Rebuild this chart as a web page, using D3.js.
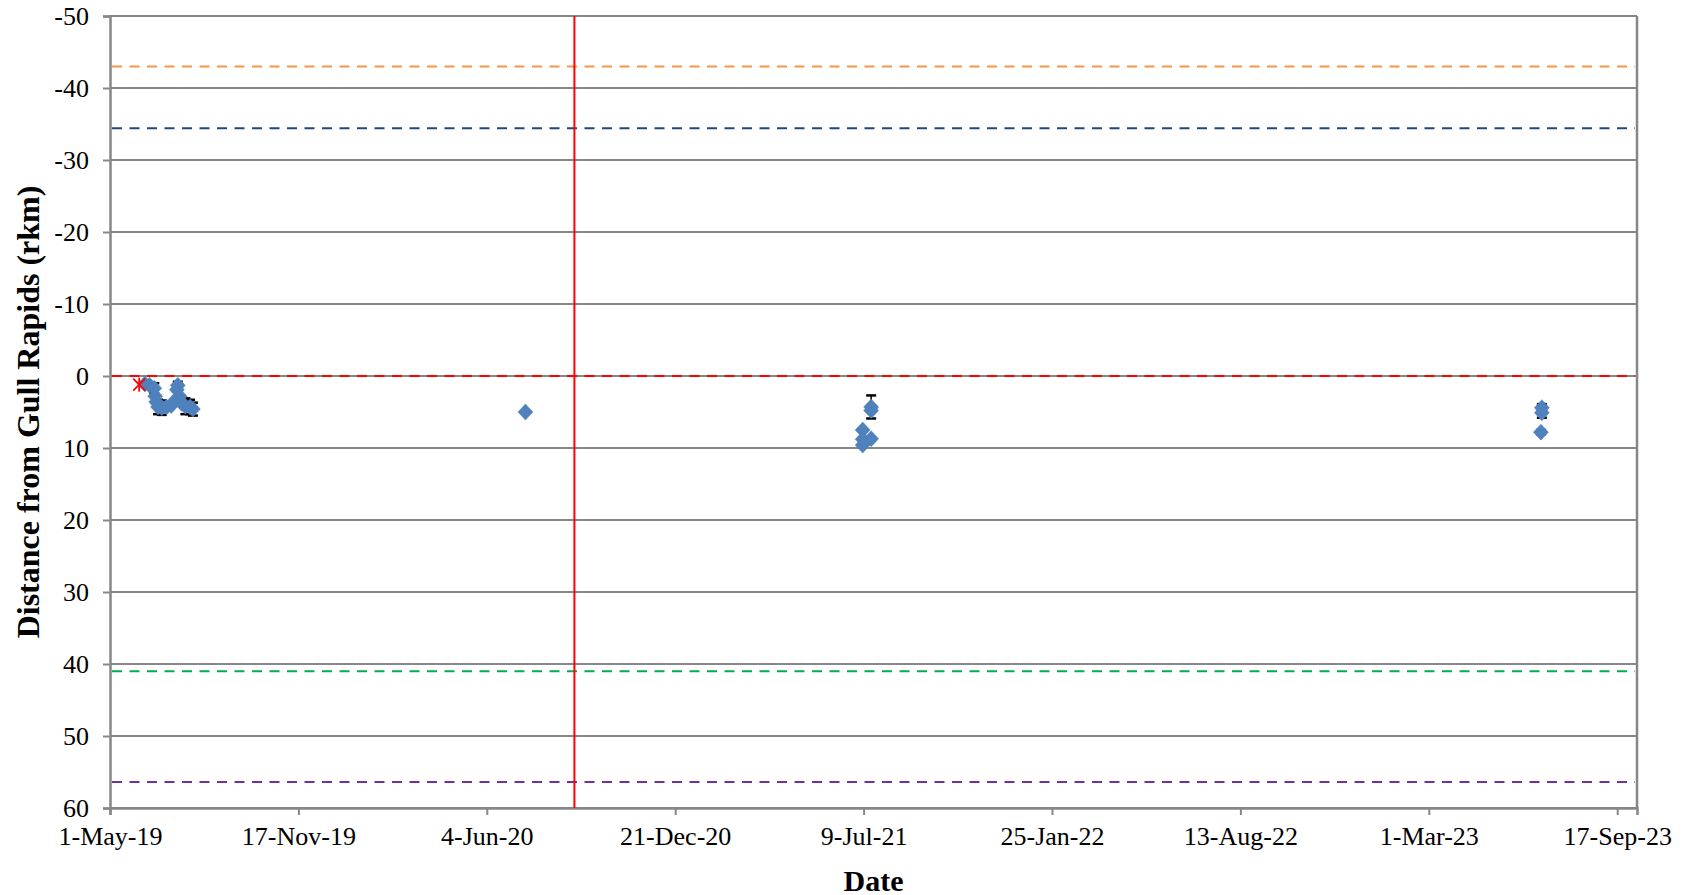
<!DOCTYPE html>
<html>
<head>
<meta charset="utf-8">
<script src="https://cdn.jsdelivr.net/npm/d3@7"></script>
<style>
  html, body { margin: 0; padding: 0; background: #ffffff; }
  svg { display: block; }
  text { font-family: "Liberation Serif", "Times New Roman", serif; fill: #000; }
</style>
</head>
<body>
<svg id="chart" width="1684" height="895"></svg>
<script>
// Detection dates of tagged fish and distance from Gull Rapids (rkm, + downstream)
const detectionDates = [
  "2019-06-07", "2019-06-12", "2019-06-17", "2019-06-18", "2019-06-19",
  "2019-06-21", "2019-06-25", "2019-06-30", "2019-07-05", "2019-07-09",
  "2019-07-11", "2019-07-12", "2019-07-14", "2019-07-16", "2019-07-20",
  "2019-07-25", "2019-07-28",
  "2020-07-15",
  "2021-07-08", "2021-07-08", "2021-07-08", "2021-07-17", "2021-07-17", "2021-07-17",
  "2023-06-29", "2023-06-29", "2023-06-28"
];
const detectionDistances = [
  1.1, 1.3, 1.7, 2.8, 3.6,
  4.3, 4.4, 4.3, 4.1, 3.4,
  1.9, 1.3, 2.8, 3.8, 4.2,
  4.3, 4.6,
  5.0,
  7.5, 8.8, 9.6, 8.7, 4.8, 4.3,
  4.4, 5.1, 7.8
];
// Symmetric error (rkm); 0 = no error bar drawn
const detectionErrors = [
  0, 0, 0.7, 0, 0,
  1.0, 1.0, 0, 0, 0,
  0, 0.5, 0, 0, 1.1,
  1.0, 0.9,
  0,
  0, 0, 0, 0, 0, 1.6,
  0.5, 0.7, 0.3
];

// Release location
const releaseDates = ["2019-06-01"];
const releaseDistances = [1.2];

// Reference distances (rkm) drawn as dashed horizontal lines
const refValues = [-43.0, -34.4, 0, 41.0, 56.4];
const refColors = ["#f79646", "#1f497d", "#ff0000", "#00b050", "#7030a0"];

// Vertical marker date
const markerDate = "2020-09-05";

// Axes
const yTicks = [-50, -40, -30, -20, -10, 0, 10, 20, 30, 40, 50, 60];
const xTickLabels = ["1-May-19", "17-Nov-19", "4-Jun-20", "21-Dec-20", "9-Jul-21",
                     "25-Jan-22", "13-Aug-22", "1-Mar-23", "17-Sep-23"];
const xStart = "2019-05-01";
const xEnd = "2023-10-08";

(function drawChart() {
  const parse = d3.utcParse("%Y-%m-%d");
  const parseTick = d3.utcParse("%d-%b-%y");

  const svg = d3.select("#chart");
  const pLeft = 110, pRight = 1637, pTop = 16, pBottom = 808;

  const x = d3.scaleUtc().domain([parse(xStart), parse(xEnd)]).range([pLeft, pRight]);
  const y = d3.scaleLinear().domain([-50, 60]).range([pTop, pBottom]);

  const gray = "#878787";

  // Horizontal gridlines
  svg.append("g").selectAll("line").data(yTicks).join("line")
    .attr("x1", pLeft).attr("x2", pRight)
    .attr("y1", d => y(d)).attr("y2", d => y(d))
    .attr("stroke", gray).attr("stroke-width", 2);

  // Right border of plot area
  svg.append("line")
    .attr("x1", pRight).attr("x2", pRight).attr("y1", pTop).attr("y2", pBottom)
    .attr("stroke", gray).attr("stroke-width", 2.5);

  // Y axis (plain hyphen for negatives)
  const yAxis = d3.axisLeft(y).tickValues(yTicks).tickSize(7).tickPadding(14)
    .tickFormat(d => String(d));
  const gy = svg.append("g").attr("transform", `translate(${pLeft},0)`).call(yAxis);
  gy.select(".domain").attr("stroke", gray).attr("stroke-width", 2.5);
  gy.selectAll(".tick line").attr("stroke", gray).attr("stroke-width", 2);
  gy.selectAll(".tick text")
    .attr("font-family", "Liberation Serif, Times New Roman, serif")
    .attr("font-size", 26).attr("fill", "#000");

  // X axis
  const xTickDates = xTickLabels.map(parseTick);
  const xAxis = d3.axisBottom(x).tickValues(xTickDates).tickSize(7).tickPadding(12)
    .tickFormat((d, i) => xTickLabels[i]);
  const gx = svg.append("g").attr("transform", `translate(0,${pBottom})`).call(xAxis);
  gx.select(".domain").attr("stroke", gray).attr("stroke-width", 2.5);
  gx.selectAll(".tick line").attr("stroke", gray).attr("stroke-width", 2);
  gx.selectAll(".tick text")
    .attr("font-family", "Liberation Serif, Times New Roman, serif")
    .attr("font-size", 26).attr("fill", "#000");

  // Reference dashed lines
  svg.append("g").selectAll("line").data(refValues).join("line")
    .attr("x1", pLeft + 2).attr("x2", pRight - 2)
    .attr("y1", d => y(d)).attr("y2", d => y(d))
    .attr("stroke", (d, i) => refColors[i]).attr("stroke-width", 2)
    .attr("stroke-dasharray", "10,7.5");

  // Vertical marker line
  svg.append("line")
    .attr("x1", x(parse(markerDate))).attr("x2", x(parse(markerDate)))
    .attr("y1", pTop).attr("y2", pBottom)
    .attr("stroke", "#ff0000").attr("stroke-width", 2);

  // Detections
  const pts = detectionDates.map((d, i) => ({
    date: parse(d), v: detectionDistances[i], e: detectionErrors[i]
  }));

  // Error bars
  const eb = svg.append("g").attr("stroke", "#000").attr("stroke-width", 1.5);
  pts.filter(p => p.e > 0).forEach(p => {
    const cx = x(p.date);
    eb.append("line").attr("x1", cx).attr("x2", cx)
      .attr("y1", y(p.v - p.e)).attr("y2", y(p.v + p.e));
    [p.v - p.e, p.v + p.e].forEach(v => {
      eb.append("line").attr("x1", cx - 5).attr("x2", cx + 5)
        .attr("y1", y(v)).attr("y2", y(v)).attr("stroke-width", 2.5);
    });
  });

  // Diamond markers
  const diamond = "M0,-8L7.5,0L0,8L-7.5,0Z";
  svg.append("g").selectAll("path").data(pts).join("path")
    .attr("d", diamond)
    .attr("transform", p => `translate(${x(p.date)},${y(p.v)})`)
    .attr("fill", "#4f81bd").attr("stroke", "#4f81bd").attr("stroke-width", 0.5);

  // Release marker (star)
  const rel = releaseDates.map((d, i) => ({ date: parse(d), v: releaseDistances[i] }));
  const rg = svg.append("g").selectAll("g").data(rel).join("g")
    .attr("transform", p => `translate(${x(p.date)},${y(p.v)})`)
    .attr("stroke", "#ff0000").attr("stroke-width", 1.8);
  rg.append("line").attr("x1", -6).attr("y1", -6).attr("x2", 6).attr("y2", 6);
  rg.append("line").attr("x1", -6).attr("y1", 6).attr("x2", 6).attr("y2", -6);
  rg.append("line").attr("x1", 0).attr("y1", -7).attr("x2", 0).attr("y2", 7);

  // Axis titles
  svg.append("text")
    .attr("x", (pLeft + pRight) / 2).attr("y", 880)
    .attr("text-anchor", "middle").attr("dominant-baseline", "central")
    .attr("font-size", 30).attr("font-weight", "bold")
    .text("Date");

  svg.append("text")
    .attr("transform", `translate(28,${(pTop + pBottom) / 2}) rotate(-90)`)
    .attr("text-anchor", "middle").attr("dominant-baseline", "central")
    .attr("font-size", 32).attr("font-weight", "bold")
    .text("Distance from Gull Rapids (rkm)");
})();
</script>
</body>
</html>
